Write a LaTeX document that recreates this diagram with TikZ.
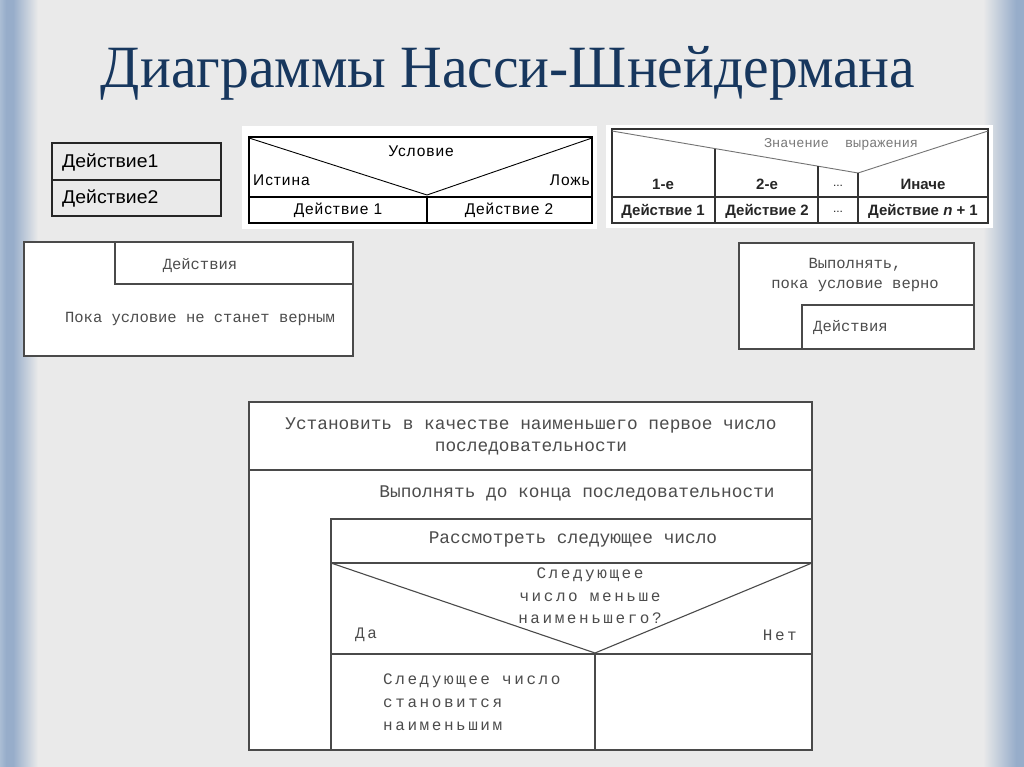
\documentclass[tikz,border=0pt]{standalone}
\usepackage{fontspec}
\setmainfont{Liberation Serif}
\newfontfamily\sansf{Liberation Sans}
\newfontfamily\sanswide[LetterSpace=6]{Liberation Sans}
\newfontfamily\monof{Liberation Mono}
\newfontfamily\monowide[LetterSpace=16]{Liberation Mono}
\usetikzlibrary{shadings}
\definecolor{bg}{HTML}{EAEAEA}
\definecolor{edgeblue}{HTML}{97ADCA}
\definecolor{edgelight}{HTML}{AABDD4}
\definecolor{titleblue}{HTML}{17375E}
\definecolor{linegray}{HTML}{4A4A4A}
\definecolor{textgray}{HTML}{4C4C4C}
\definecolor{lightgray}{HTML}{787878}
\tikzset{
  panel/.style={fill=white, draw=none},
  grayframe/.style={draw=linegray, line width=1.1pt, fill=white},
  grayline/.style={draw=linegray, line width=1.1pt},
  blackframe/.style={draw=black, line width=1.4pt},
  thinblack/.style={draw=black, line width=0.9pt},
  seqtxt/.style={font=\sansf\fontsize{18.5}{20}\selectfont, text=black, inner sep=0pt},
  iftxt/.style={font=\sanswide\fontsize{15.5}{17}\selectfont, text=black, inner sep=0pt},
  casetxt/.style={font=\sansf\bfseries\fontsize{15}{17}\selectfont, text=black!85, inner sep=0pt},
  casehead/.style={font=\monof\fontsize{13.5}{15}\selectfont, text=lightgray, inner sep=0pt},
  smallmono/.style={font=\monof\fontsize{15.5}{17}\selectfont, text=textgray, inner sep=0pt},
  bigmono/.style={font=\monof\fontsize{17.8}{19}\selectfont, text=textgray, inner sep=0pt},
  widemono/.style={font=\monowide\fontsize{16}{19}\selectfont, text=textgray, inner sep=0pt},
}
\begin{document}
\begin{tikzpicture}[x=1pt,y=-1pt]
\useasboundingbox (0,0) rectangle (1024,767);
% background
\fill[bg] (0,0) rectangle (1024,767);
\shade[left color=edgelight, right color=edgeblue] (0,0) rectangle (6,767);
\fill[edgeblue] (6,0) rectangle (13,767);
\shade[left color=edgeblue, right color=bg] (13,0) rectangle (38,767);
\shade[left color=bg, right color=edgeblue] (983,0) rectangle (1016,767);
\fill[edgeblue] (1016,0) rectangle (1024,767);

% title
\node[font=\fontsize{60}{60}\selectfont, text=titleblue, anchor=base, inner sep=0pt] (title) at (508,88) {\scalebox{0.96}[1]{Диаграммы Насси-Шнейдермана}};

% ---- box 1: sequence
\draw[draw=black!85, line width=1.1pt, fill=bg] (52,143) rectangle (221,216);
\draw[draw=black!85, line width=1.1pt] (52,180) -- (221,180);
\node[seqtxt, anchor=west] (s1) at (62,162) {\scalebox{1.05}[1]{Действие1}};
\node[seqtxt, anchor=west] (s2) at (62,198.5) {\scalebox{1.05}[1]{Действие2}};

% ---- box 2: if
\fill[panel] (242,126) rectangle (597,229);
\draw[blackframe] (249,137) rectangle (592,223);
\draw[draw=black, line width=2.6pt] (249,137) -- (592,137);
\draw[thinblack] (249,138) -- (427,195) -- (592,138);
\draw[draw=black, line width=2pt] (249,197) -- (592,197);
\draw[draw=black, line width=2pt] (427,196) -- (427,223);
\node[iftxt] (cond) at (421,151) {Условие};
\node[iftxt, anchor=west] (yes) at (253,180.5) {Истина};
\node[iftxt, anchor=east] (no) at (590,180.5) {Ложь};
\node[iftxt] (a1) at (338,210.5) {Действие 1};
\node[iftxt] (a2) at (509,210.5) {Действие 2};

% ---- box 3: case
\fill[panel] (606,125) rectangle (993,228);
\draw[draw=black!80, line width=1.2pt] (612,129) rectangle (988,223);
\draw[draw=black!55, line width=0.9pt] (612,131) -- (858,173) -- (988,131);
\draw[draw=black!80, line width=1.5pt] (612,197) -- (988,197);
\draw[draw=black!80, line width=1.5pt] (715,149) -- (715,223);
\draw[draw=black!80, line width=1.5pt] (818,166) -- (818,223);
\draw[draw=black!80, line width=1.5pt] (858,173) -- (858,223);
\node[casehead] (expr) at (841,144) {Значение\ \ выражения};
\node[casetxt] (c1) at (663,184.5) {1-е};
\node[casetxt] (c2) at (767,184.5) {2-е};
\node[casetxt, font=\sansf\fontsize{12}{14}\selectfont] (c3) at (838,185.5) {...};
\node[casetxt] (c4) at (923,184.5) {Иначе};
\node[casetxt] (d1) at (663,211) {Действие 1};
\node[casetxt] (d2) at (767,211) {Действие 2};
\node[casetxt, font=\sansf\fontsize{12}{14}\selectfont] (d3) at (838,212) {...};
\node[casetxt] (d4) at (923,211) {Действие \textit{n} + 1};

% ---- box 4: loop with postcondition
\draw[grayframe] (24,242) rectangle (353,356);
\draw[grayline] (115,242) -- (115,284) -- (353,284);
\node[smallmono] (b4a) at (200,266) {Действия};
\node[smallmono] (b4b) at (200,319) {Пока условие не станет верным};

% ---- box 5: loop with precondition
\draw[grayframe] (739,243) rectangle (974,349);
\draw[grayline] (974,305) -- (802,305) -- (802,349);
\node[smallmono] (b5a) at (855,265) {Выполнять,};
\node[smallmono] (b5b) at (855,286) {пока условие верно};
\node[smallmono, anchor=west] (b5c) at (813,328) {Действия};

% ---- box 6: example
\draw[grayframe] (249,402) rectangle (812,750);
\draw[grayline] (249,470) -- (812,470);
\node[bigmono] (e1) at (531,425) {Установить в качестве наименьшего первое число};
\node[bigmono] (e2) at (531,448) {последовательности};
\node[bigmono] (e3) at (577,493) {Выполнять до конца последовательности};
\draw[grayline] (331,750) -- (331,519) -- (812,519);
\node[bigmono] (e4) at (573,539) {Рассмотреть следующее число};
\draw[grayline] (331,563) -- (812,563);
\draw[grayline] (331,563) -- (595,653) -- (812,563);
\draw[grayline] (331,654) -- (812,654);
\draw[grayline] (595,654) -- (595,750);
\node[widemono] (q1) at (590,575) {Следующее};
\node[widemono] (q2) at (590,597) {число меньше};
\node[widemono] (q3) at (590,618) {наименьшего?};
\node[widemono, anchor=west] (da) at (355,635) {Да};
\node[widemono, anchor=east] (net) at (797,635) {Нет};
\node[widemono, anchor=west] (r1) at (383,681) {Следующее число};
\node[widemono, anchor=west] (r2) at (383,703) {становится};
\node[widemono, anchor=west] (r3) at (383,726) {наименьшим};
\end{tikzpicture}
\end{document}
